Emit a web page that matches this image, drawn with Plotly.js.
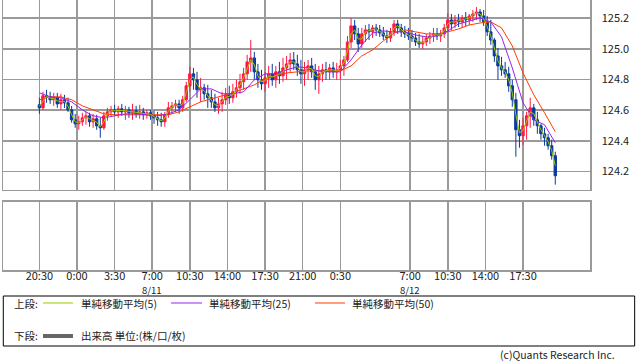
<!DOCTYPE html>
<html><head><meta charset="utf-8">
<script src="https://cdn.plot.ly/plotly-3.0.1.min.js"></script>
<style>html,body{margin:0;padding:0;background:#fff;} #chart{width:638px;height:362px;}</style>
</head><body><div id="chart"></div>
<script>
// Time axis: hours relative to 8/11 0:00 ; first candle = 8/10 20:30, 20-minute candles
const START_HOUR = -3.5;
const CANDLE_STEP = 1/3;
const MA_STEP = 1;

const opens = [
124.635,124.615,124.694,124.687,124.668,124.681,124.641,124.668,124.648,124.602,
124.537,124.511,124.524,124.550,124.563,124.524,124.544,124.498,124.485,124.563,
124.589,124.602,124.589,124.609,124.589,124.602,124.583,124.596,124.576,124.589,
124.570,124.583,124.563,124.550,124.537,124.524,124.570,124.615,124.628,124.641,
124.615,124.668,124.759,124.837,124.798,124.733,124.746,124.707,124.681,124.654,
124.615,124.641,124.668,124.700,124.681,124.720,124.746,124.785,124.837,124.915,
124.941,124.850,124.798,124.772,124.811,124.837,124.798,124.850,124.824,124.876,
124.902,124.928,124.902,124.863,124.837,124.863,124.889,124.850,124.798,124.837,
124.863,124.850,124.876,124.850,124.863,124.889,124.928,125.045,125.150,125.098,
125.032,125.098,125.124,125.111,125.137,125.124,125.104,125.084,125.071,125.111,
125.163,125.137,125.111,125.098,125.084,125.071,125.045,125.032,125.045,125.071,
125.084,125.098,125.084,125.098,125.137,125.189,125.163,125.189,125.176,125.202,
125.189,125.215,125.228,125.241,125.215,125.176,125.111,125.058,124.954,124.889,
124.863,124.837,124.759,124.668,124.472,124.433,124.498,124.563,124.615,124.537,
124.498,124.446,124.420,124.368,124.303];
const highs = [
124.681,124.720,124.733,124.720,124.713,124.713,124.707,124.700,124.681,124.628,
124.576,124.563,124.583,124.589,124.583,124.576,124.570,124.550,124.589,124.615,
124.628,124.635,124.628,124.641,124.628,124.622,124.641,124.628,124.635,124.615,
124.602,124.602,124.596,124.589,124.583,124.589,124.654,124.654,124.668,124.668,
124.694,124.785,124.883,124.876,124.850,124.811,124.772,124.765,124.733,124.707,
124.681,124.720,124.746,124.759,124.772,124.798,124.837,124.876,124.961,125.058,
124.980,124.902,124.863,124.850,124.889,124.902,124.889,124.915,124.941,124.954,
124.974,124.980,124.961,124.928,124.915,124.928,124.941,124.902,124.889,124.902,
124.915,124.902,124.915,124.909,124.928,124.954,125.084,125.202,125.189,125.137,
125.137,125.156,125.163,125.156,125.163,125.156,125.143,125.124,125.137,125.189,
125.189,125.163,125.150,125.137,125.124,125.104,125.098,125.084,125.098,125.111,
125.137,125.137,125.124,125.163,125.234,125.228,125.221,125.228,125.221,125.241,
125.228,125.254,125.273,125.260,125.254,125.215,125.189,125.071,125.006,124.948,
124.915,124.883,124.798,124.713,124.537,124.550,124.589,124.681,124.641,124.589,
124.511,124.485,124.446,124.407,124.329];
const lows = [
124.576,124.602,124.648,124.641,124.628,124.615,124.602,124.615,124.589,124.518,
124.485,124.472,124.498,124.505,124.492,124.485,124.472,124.420,124.472,124.531,
124.557,124.563,124.550,124.563,124.537,124.550,124.537,124.550,124.544,124.537,
124.544,124.537,124.511,124.498,124.492,124.492,124.550,124.576,124.589,124.576,
124.589,124.654,124.720,124.733,124.681,124.654,124.668,124.615,124.615,124.589,
124.576,124.589,124.635,124.641,124.648,124.681,124.707,124.733,124.798,124.850,
124.798,124.746,124.733,124.720,124.746,124.759,124.746,124.772,124.785,124.798,
124.850,124.863,124.824,124.772,124.759,124.798,124.811,124.733,124.707,124.785,
124.798,124.798,124.811,124.798,124.798,124.824,124.915,125.006,125.058,124.980,
125.006,125.045,125.058,125.071,125.084,125.078,125.058,125.039,125.045,125.084,
125.098,125.078,125.071,125.058,125.045,125.019,125.006,125.000,125.019,125.032,
125.045,125.058,125.045,125.071,125.111,125.124,125.137,125.143,125.137,125.150,
125.156,125.176,125.189,125.176,125.150,125.084,125.026,124.915,124.798,124.824,
124.811,124.720,124.622,124.296,124.355,124.374,124.407,124.485,124.498,124.446,
124.407,124.368,124.342,124.277,124.114];
const closes = [
124.615,124.694,124.687,124.668,124.681,124.641,124.668,124.648,124.602,124.537,
124.511,124.524,124.550,124.563,124.524,124.544,124.498,124.485,124.563,124.589,
124.602,124.589,124.609,124.589,124.602,124.583,124.596,124.576,124.589,124.570,
124.583,124.563,124.550,124.537,124.524,124.570,124.615,124.628,124.641,124.615,
124.668,124.759,124.837,124.798,124.733,124.746,124.707,124.681,124.654,124.615,
124.641,124.668,124.700,124.681,124.720,124.746,124.785,124.837,124.915,124.941,
124.850,124.798,124.772,124.811,124.837,124.798,124.850,124.824,124.876,124.902,
124.928,124.902,124.863,124.837,124.863,124.889,124.850,124.798,124.837,124.863,
124.850,124.876,124.850,124.863,124.889,124.928,125.045,125.150,125.098,125.032,
125.098,125.124,125.111,125.137,125.124,125.104,125.084,125.071,125.111,125.163,
125.137,125.111,125.098,125.084,125.071,125.045,125.032,125.045,125.071,125.084,
125.098,125.084,125.098,125.137,125.189,125.163,125.189,125.176,125.202,125.189,
125.215,125.228,125.241,125.215,125.176,125.111,125.058,124.954,124.889,124.863,
124.837,124.759,124.668,124.472,124.433,124.498,124.563,124.615,124.537,124.498,
124.446,124.420,124.368,124.303,124.172];
const ma5 = [
124.625,124.655,124.690,124.678,124.675,124.661,124.655,124.658,124.625,124.570,
124.524,124.518,124.537,124.557,124.544,124.534,124.521,124.492,124.524,124.576,
124.596,124.596,124.599,124.599,124.596,124.593,124.590,124.586,124.583,124.580,
124.577,124.573,124.557,124.544,124.531,124.547,124.593,124.622,124.635,124.628,
124.642,124.714,124.798,124.818,124.766,124.740,124.727,124.694,124.668,124.635,
124.628,124.655,124.684,124.691,124.701,124.733,124.766,124.811,124.876,124.928,
124.896,124.824,124.785,124.792,124.824,124.818,124.824,124.837,124.850,124.889,
124.915,124.915,124.883,124.850,124.850,124.876,124.870,124.824,124.818,124.850,
124.857,124.863,124.863,124.857,124.876,124.909,124.987,125.098,125.124,125.065,
125.065,125.111,125.118,125.124,125.131,125.114,125.094,125.078,125.091,125.137,
125.150,125.124,125.105,125.091,125.078,125.058,125.039,125.039,125.058,125.078,
125.091,125.091,125.091,125.118,125.163,125.176,125.176,125.183,125.189,125.196,
125.202,125.222,125.235,125.228,125.196,125.144,125.085,125.006,124.922,124.876,
124.850,124.798,124.714,124.570,124.453,124.466,124.531,124.589,124.576,124.518,
124.472,124.433,124.394,124.336,124.238];
// hourly samples of the 25 / 50 period moving averages
const ma25 = [
124.713,124.687,124.681,124.654,124.602,124.563,124.550,124.563,124.576,124.576,
124.570,124.563,124.576,124.602,124.668,124.739,124.739,124.707,124.707,124.720,
124.798,124.837,124.837,124.863,124.883,124.876,124.856,124.850,124.850,124.928,
125.026,125.104,125.117,125.111,125.111,125.091,125.078,125.084,125.117,125.163,
125.182,125.202,125.176,125.078,124.876,124.648,124.537,124.505,124.387];
const ma50 = [
124.668,124.687,124.687,124.668,124.628,124.602,124.576,124.570,124.570,124.570,
124.570,124.570,124.570,124.589,124.622,124.654,124.674,124.694,124.713,124.739,
124.765,124.804,124.824,124.843,124.850,124.856,124.856,124.856,124.856,124.889,
124.954,124.993,125.052,125.104,125.124,125.111,125.098,125.098,125.111,125.130,
125.156,125.169,125.176,125.137,125.019,124.843,124.700,124.583,124.459];

const tickHours = [-3.5,0,3.5,7,10.5,14,17.5,21,24.5,31,34.5,38,41.5];
const tickLabels = ['20:30','0:00','3:30','7:00','10:30','14:00','17:30','21:00','0:30','7:00','10:30','14:00','17:30'];
const dateHours = [7,31];
const dateLabels = ['8/11','8/12'];
const priceTicks = [124.2,124.4,124.6,124.8,125.0,125.2];
const priceTickLabels = ['124.2','124.4','124.6','124.8','125.0','125.2'];
const legendNames = ['単純移動平均(5)','単純移動平均(25)','単純移動平均(50)'];
const volumeLegend = '出来高 単位:(株/口/枚)';

const candleTimes = opens.map((_, i) => START_HOUR + i * CANDLE_STEP);
const maTimes = ma25.map((_, k) => START_HOUR + k * MA_STEP);

const C_UP = '#ff1744', C_DN = '#0a3a9e';
const C5 = '#99cc00', C25 = '#9922ee', C50 = '#ff3c00';
const FONT = '"Noto Sans CJK JP", "Noto Sans", sans-serif';
const GRID = '#9a9a9a';

const traces = [
  {type:'candlestick', x:candleTimes, open:opens, high:highs, low:lows, close:closes,
   increasing:{line:{color:C_UP, width:1}, fillcolor:C_UP},
   decreasing:{line:{color:C_DN, width:1}, fillcolor:C_DN},
   whiskerwidth:0, xaxis:'x', yaxis:'y', hoverinfo:'skip'},
  {type:'scatter', mode:'lines', x:maTimes, y:ma50, line:{color:C50, width:1}, xaxis:'x', yaxis:'y'},
  {type:'scatter', mode:'lines', x:maTimes, y:ma25, line:{color:C25, width:1}, xaxis:'x', yaxis:'y'},
  {type:'scatter', mode:'lines', x:candleTimes, y:ma5, line:{color:C5, width:1}, xaxis:'x', yaxis:'y'},
  {type:'bar', x:[], y:[], xaxis:'x2', yaxis:'y2', marker:{color:'#666'}}
];

const XR = [-6.885, 47.73];
const annotations = [];
dateHours.forEach((h, i) => annotations.push({xref:'x2', yref:'paper', x:h, y:-0.0741, text:dateLabels[i],
  showarrow:false, xanchor:'center', yanchor:'middle', font:{family:FONT, size:9.5, color:'#222'}}));
const tx = (t, x, y, anchor, size) => annotations.push({xref:'paper', yref:'paper', x:x, y:y, text:t,
  showarrow:false, xanchor:anchor||'left', yanchor:'middle', font:{family:FONT, size:size||10.5, color:'#222'}});
tx('上段:', 0.0153, -0.1259);
tx(legendNames[0], 0.1295, -0.1259);
tx(legendNames[1], 0.3475, -0.1259);
tx(legendNames[2], 0.5911, -0.1259);
tx('下段:', 0.0153, -0.2444);
tx(volumeLegend, 0.1295, -0.2444);
tx('(c)Quants Research Inc.', 1.046, -0.312, 'right', 10.5);

const shapes = [
  {type:'rect', xref:'paper', yref:'paper', x0:0.0005, x1:1.0761, y0:-0.0963, y1:-0.2815, line:{color:'#000', width:1}},
  {type:'line', xref:'paper', yref:'paper', x0:0.0681, x1:0.1192, y0:-0.1222, y1:-0.1222, line:{color:C5, width:1}},
  {type:'line', xref:'paper', yref:'paper', x0:0.2862, x1:0.339, y0:-0.1222, y1:-0.1222, line:{color:C25, width:1}},
  {type:'line', xref:'paper', yref:'paper', x0:0.5315, x1:0.5826, y0:-0.1222, y1:-0.1222, line:{color:C50, width:1}},
  {type:'line', xref:'paper', yref:'paper', x0:0.0681, x1:0.1192, y0:-0.2444, y1:-0.2444, line:{color:'#666', width:4}}
];

const layout = {
  width:638, height:362, margin:{l:3, r:48, t:0, b:92},
  paper_bgcolor:'#fff', plot_bgcolor:'#fff', showlegend:false, hovermode:false,
  boxgap:0.05,
  font:{family:FONT, size:11, color:'#222'},
  xaxis:{domain:[0,1], anchor:'y', range:XR, tickvals:tickHours, showticklabels:false, ticks:'',
    showgrid:true, gridcolor:GRID, gridwidth:1.5, showline:true, linecolor:GRID, linewidth:1.5, mirror:true, zeroline:false,
    rangeslider:{visible:false}, fixedrange:true},
  yaxis:{domain:[0.2963,1], anchor:'x', range:[124.079,125.319], side:'right', tickvals:priceTicks, ticktext:priceTickLabels,
    showgrid:true, gridcolor:GRID, gridwidth:1.5, showline:true, linecolor:GRID, linewidth:1.5, mirror:true, zeroline:false,
    ticks:'outside', ticklen:8, tickcolor:'rgba(0,0,0,0)', tickfont:{family:FONT, size:11, color:'#222'}, fixedrange:true},
  xaxis2:{domain:[0,1], anchor:'y2', range:XR, tickvals:tickHours, ticktext:tickLabels, ticks:'',
    ticklabelstandoff:-5,
    showgrid:true, gridcolor:GRID, gridwidth:1.5, showline:true, linecolor:GRID, linewidth:1.5, mirror:true, zeroline:false,
    tickfont:{family:FONT, size:11, color:'#222'}, fixedrange:true},
  yaxis2:{domain:[0,0.253], anchor:'x2', range:[0,1], showgrid:false, showticklabels:false, ticks:'',
    showline:true, linecolor:GRID, linewidth:1.5, mirror:true, zeroline:false, fixedrange:true},
  annotations:annotations, shapes:shapes
};

Plotly.newPlot('chart', traces, layout, {staticPlot:true, displayModeBar:false});
</script></body></html>
